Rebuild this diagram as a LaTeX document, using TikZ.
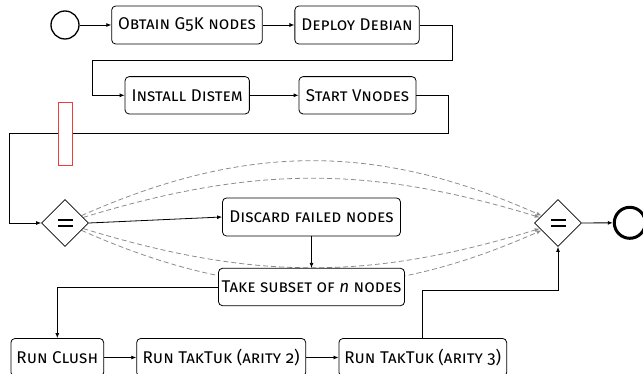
\documentclass[tikz,border=0pt]{standalone}
\usepackage{fontspec}
\setmainfont{Fira Sans}[Numbers=OldStyle]
\usetikzlibrary{shapes.geometric,arrows.meta,backgrounds}

\definecolor{flowgray}{gray}{0.55}
\definecolor{markred}{RGB}{238,60,60}

\tikzset{
  every picture/.style={x=1pt,y=-1pt},
  task/.style={draw, line width=0.8pt, rounded corners=4pt, fill=white,
    minimum height=38pt, inner sep=0pt, font=\fontsize{17}{20}\selectfont\scshape},
  gate/.style={draw, line width=0.8pt, diamond, aspect=1, fill=white,
    minimum width=47pt, minimum height=47pt, inner sep=0pt,
    path picture={
      \fill[black] ([xshift=-7.5pt,yshift=1.6pt]path picture bounding box.center) rectangle ++(15pt,2.8pt);
      \fill[black] ([xshift=-7.5pt,yshift=-1.6pt]path picture bounding box.center) rectangle ++(15pt,-2.8pt);
    }},
  flow/.style={line width=0.8pt, -{Latex[length=5pt,width=4pt]}},
  alt/.style={flowgray, line width=0.8pt, dash pattern=on 5pt off 3pt,
    -{Latex[length=5pt,width=4pt]}},
}

\begin{document}
\begin{tikzpicture}
\useasboundingbox (0,0) rectangle (643,374);

% start and end events
\node[draw, circle, line width=1.3pt, minimum size=28pt, inner sep=0pt] (start) at (65,25) {};
\node[draw, circle, line width=3pt, minimum size=31pt, inner sep=0pt] (stop) at (629.8,222.8) {};

% setup steps
\node[task, minimum width=150.6pt] (obtain) at (187,25) {Obtain G5K nodes};
\node[task, minimum width=124.3pt] (deploy) at (357,25) {Deploy Debian};
\node[task, minimum width=124.3pt, minimum height=37.3pt] (install) at (187.2,95.3) {Install Distem};
\node[task, minimum width=117pt, minimum height=37.3pt] (vnodes) at (357.5,95.3) {Start Vnodes};

% gateways
\node[gate] (split) at (65,223) {};
\node[gate] (join) at (558,223) {};

% experiment steps
\node[task, minimum width=178pt] (discard) at (311.5,217) {Discard failed nodes};
\node[task, minimum width=186pt, minimum height=37.4pt] (subset) at (311.5,287) {Take subset of {\upshape\itshape n} nodes};
\node[task, minimum width=92.7pt] (clush) at (57.3,357.5) {Run Clush};
\node[task, minimum width=169pt] (tak2) at (221.2,357.5) {Run TakTuk (arity 2)};
\node[task, minimum width=167.7pt] (tak3) at (422.8,357.5) {Run TakTuk (arity 3)};

% bends of the routed connectors
\coordinate (k1) at (452.3,60.3);
\coordinate (k2) at (92.7,60.3);
\coordinate (k3) at (448.3,133.3);
\coordinate (k4) at (9,133.3);
\coordinate (k5) at (422.8,290);

\draw[flow] (start) -- (obtain);
\draw[flow] (obtain) -- (deploy);
\draw[flow] (deploy.east) -| (k1) -- (k2) |- (install.west);
\draw[flow] (install) -- (vnodes);
\draw[flow] (vnodes.east) -| (k3) -- (k4) |- (split.west);

% marker on the return line
\node[draw=markred, fill=white, line width=0.8pt, minimum width=14pt, minimum height=63pt, inner sep=0pt] (mark) at (65,133.5) {};

\draw[flow] (split.east) -- (discard.west);
\draw[flow] (discard) -- (subset);
\draw[flow] (subset.west) -| (clush.north);
\draw[flow] (clush) -- (tak2);
\draw[flow] (tak2) -- (tak3);
\draw[flow] (tak3.north) -- (k5) -| (join.south);
\draw[flow] (join) -- (stop);

% alternative paths between the gateways
\begin{scope}[on background layer]
  \draw[alt] (split) to[bend left=24] (join);
  \draw[alt] (split) to[bend left=17] (join);
  \draw[alt] (split) to[bend right=17] (join);
  \draw[alt] (split) to[bend right=24] (join);
\end{scope}
\end{tikzpicture}
\end{document}
